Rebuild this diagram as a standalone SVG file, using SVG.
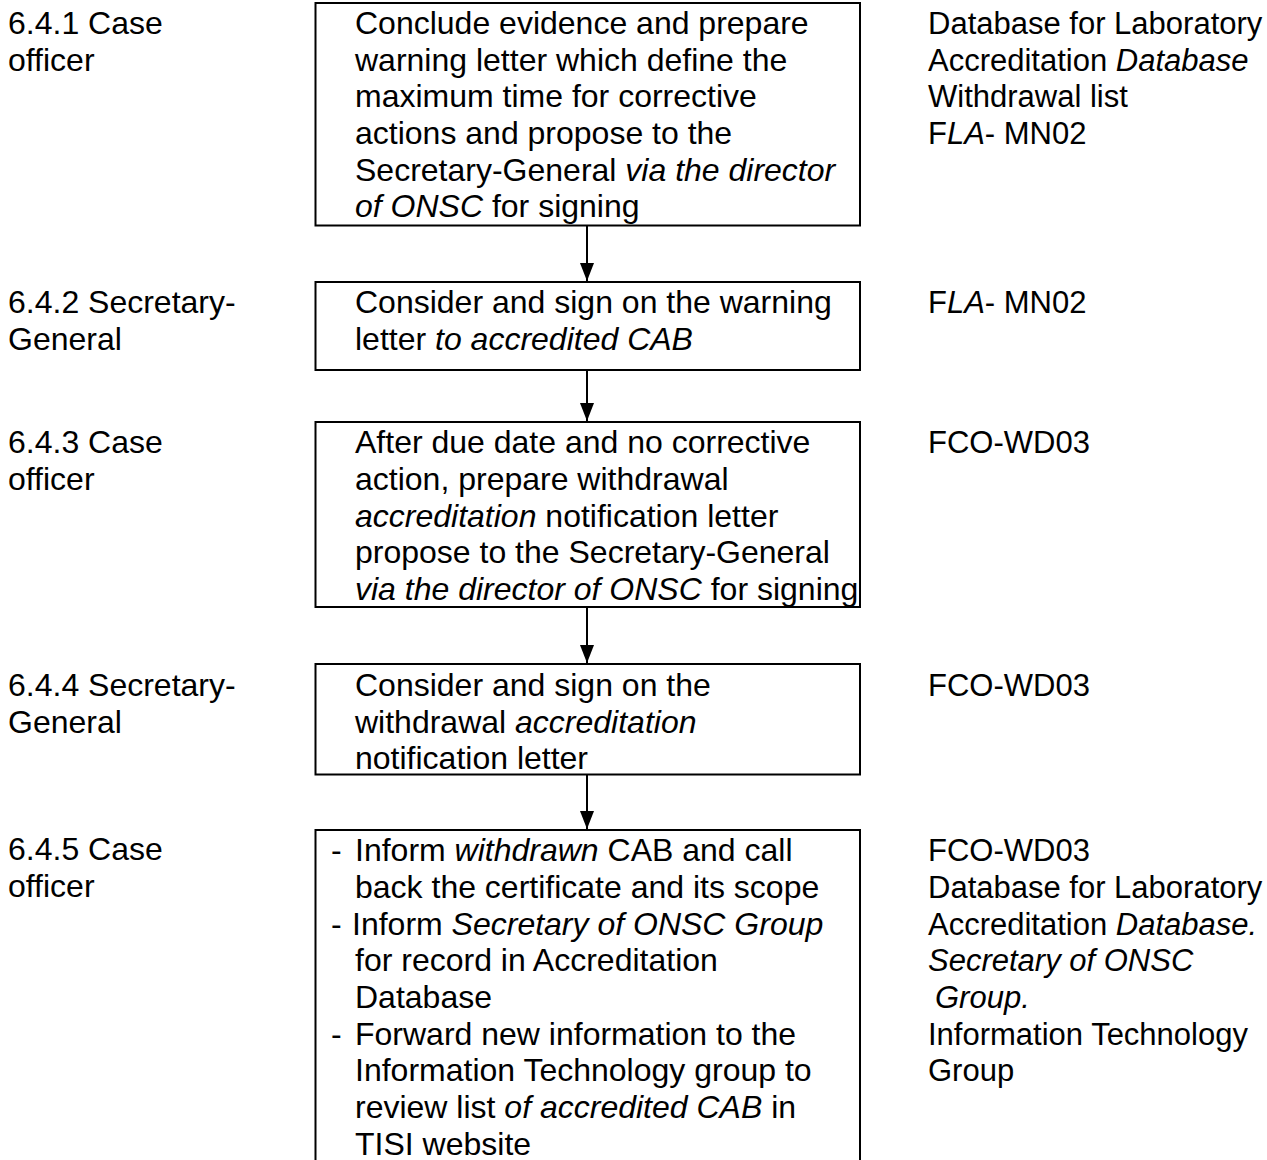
<svg xmlns="http://www.w3.org/2000/svg" width="1267" height="1160" viewBox="0 0 1267 1160">
<style>
text{font-family:"Liberation Sans",Arial,sans-serif;font-size:32px;fill:#000}
.i{font-style:italic}
#records text{font-size:31px}
.box{fill:#fff;stroke:#000;stroke-width:2}
.con{stroke:#000;stroke-width:2;fill:none}
</style>
<defs>
<marker id="arr" markerWidth="18" markerHeight="14" refX="18" refY="7" orient="auto" markerUnits="userSpaceOnUse" viewBox="0 0 18 14">
<path d="M0,0 L18,7 L0,14 Z" fill="#000"/>
</marker>
</defs>
<g id="labels">
<text x="8" y="34">6.4.1 Case</text><text x="8" y="71">officer</text>
<text x="8" y="313">6.4.2 Secretary-</text><text x="8" y="350">General</text>
<text x="8" y="453">6.4.3 Case</text><text x="8" y="490">officer</text>
<text x="8" y="696">6.4.4 Secretary-</text><text x="8" y="733">General</text>
<text x="8" y="860">6.4.5 Case</text><text x="8" y="897">officer</text>
</g>
<g id="n1">
<rect class="box" x="315.5" y="3" width="544.5" height="222.5"/>
<text x="355" y="34">Conclude evidence and prepare</text>
<text x="355" y="71">warning letter which define the</text>
<text x="355" y="107">maximum time for corrective</text>
<text x="355" y="144">actions and propose to the</text>
<text x="355" y="181">Secretary-General <tspan class="i">via the director</tspan></text>
<text x="355" y="217"><tspan class="i">of ONSC</tspan> for signing</text>
</g>
<g id="n2">
<rect class="box" x="315.5" y="282" width="544.5" height="88"/>
<text x="355" y="313">Consider and sign on the warning</text>
<text x="355" y="350">letter <tspan class="i">to accredited CAB</tspan></text>
</g>
<g id="n3">
<rect class="box" x="315.5" y="422" width="544.5" height="185"/>
<text x="355" y="453">After due date and no corrective</text>
<text x="355" y="490">action, prepare withdrawal</text>
<text x="355" y="527"><tspan class="i">accreditation</tspan> notification letter</text>
<text x="355" y="563">propose to the Secretary-General</text>
<text x="355" y="600"><tspan class="i">via the director of ONSC</tspan> for signing</text>
</g>
<g id="n4">
<rect class="box" x="315.5" y="664" width="544.5" height="110.5"/>
<text x="355" y="696">Consider and sign on the</text>
<text x="355" y="733">withdrawal <tspan class="i">accreditation</tspan></text>
<text x="355" y="769">notification letter</text>
</g>
<g id="n5">
<rect class="box" x="315.5" y="830" width="544.5" height="345"/>
<text x="331" y="861">-</text><text x="355" y="861">Inform <tspan class="i">withdrawn</tspan> CAB and call</text>
<text x="355" y="898">back the certificate and its scope</text>
<text x="331" y="935">-</text><text x="352" y="935">Inform <tspan class="i">Secretary of ONSC Group</tspan></text>
<text x="355" y="971">for record in Accreditation</text>
<text x="355" y="1008">Database</text>
<text x="331" y="1045">-</text><text x="355" y="1045">Forward new information to the</text>
<text x="355" y="1081">Information Technology group to</text>
<text x="355" y="1118">review list <tspan class="i">of accredited CAB</tspan> in</text>
<text x="355" y="1155">TISI website</text>
</g>
<g id="records">
<text x="928" y="34">Database for Laboratory</text>
<text x="928" y="71">Accreditation <tspan class="i">Database</tspan></text>
<text x="928" y="107">Withdrawal list</text>
<text x="928" y="144">F<tspan class="i">LA</tspan>- MN02</text>
<text x="928" y="313">F<tspan class="i">LA</tspan>- MN02</text>
<text x="928" y="453">FCO-WD03</text>
<text x="928" y="696">FCO-WD03</text>
<text x="928" y="861">FCO-WD03</text>
<text x="928" y="898">Database for Laboratory</text>
<text x="928" y="935">Accreditation <tspan class="i">Database.</tspan></text>
<text x="928" y="971" class="i">Secretary of ONSC</text>
<text x="935" y="1008" class="i">Group.</text>
<text x="928" y="1045">Information Technology</text>
<text x="928" y="1081">Group</text>
</g>
<g id="connectors">
<line class="con" x1="587" y1="226" x2="587" y2="281" marker-end="url(#arr)"/>
<line class="con" x1="587" y1="371" x2="587" y2="421" marker-end="url(#arr)"/>
<line class="con" x1="587" y1="608" x2="587" y2="663" marker-end="url(#arr)"/>
<line class="con" x1="587" y1="775" x2="587" y2="829" marker-end="url(#arr)"/>
</g>
</svg>
